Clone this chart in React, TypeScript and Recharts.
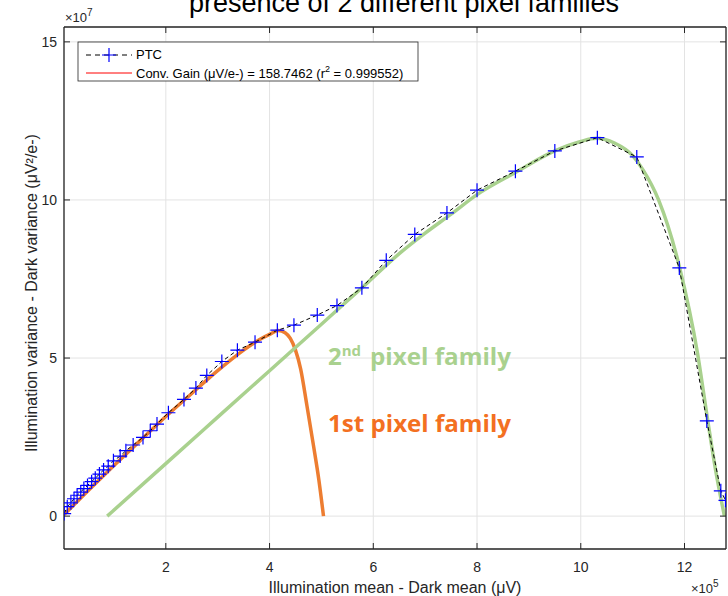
import React from 'react';
import { ComposedChart, Line, XAxis, YAxis, CartesianGrid } from 'recharts';

// x in units of 1e5 µV, y in units of 1e7 µV²/e- (the axes show the multipliers)
const ptcX = [0.04, 0.1, 0.17, 0.23, 0.29, 0.36, 0.42, 0.49, 0.57, 0.64, 0.72, 0.8, 0.89, 0.99, 1.12, 1.23, 1.37, 1.56, 1.7, 1.83, 2.05, 2.35, 2.58, 2.79, 3.08, 3.38, 3.72, 4.15, 4.47, 4.92, 5.3, 5.78, 6.25, 6.8, 7.42, 8.0, 8.74, 9.5, 10.32, 11.08, 11.9, 12.43, 12.7, 12.79];
const ptcY = [0.08, 0.3, 0.42, 0.55, 0.66, 0.76, 0.87, 0.97, 1.09, 1.2, 1.33, 1.46, 1.58, 1.75, 1.9, 2.07, 2.25, 2.49, 2.7, 2.91, 3.27, 3.69, 4.05, 4.45, 4.89, 5.25, 5.5, 5.88, 6.04, 6.36, 6.66, 7.22, 8.09, 8.91, 9.59, 10.31, 10.91, 11.55, 11.97, 11.36, 7.85, 3.01, 0.8, 0.5];

// 1st pixel family fit (orange)
const fam1X = [0.04, 0.5, 1.0, 1.5, 2.0, 2.5, 3.0, 3.5, 3.8, 4.0, 4.17, 4.3, 4.4, 4.5, 4.6, 4.72, 4.85, 4.95, 5.04];
const fam1Y = [0.05, 0.8, 1.6, 2.38, 3.15, 3.88, 4.6, 5.25, 5.58, 5.75, 5.87, 5.8, 5.62, 5.25, 4.65, 3.5, 2.2, 1.15, 0.0];

// 2nd pixel family fit (green)
const fam2X = [0.87, 2.0, 3.0, 4.0, 5.0, 5.9, 6.5, 7.0, 7.5, 8.0, 8.75, 9.5, 10.0, 10.3, 10.65, 11.0, 11.2, 11.5, 11.9, 12.25, 12.45, 12.6, 12.77];
const fam2Y = [0.0, 1.66, 3.13, 4.6, 6.07, 7.4, 8.3, 8.95, 9.55, 10.17, 10.88, 11.55, 11.85, 11.95, 11.8, 11.4, 10.95, 10.0, 7.9, 5.16, 3.0, 1.45, 0.0];

const xTicks = [2, 4, 6, 8, 10, 12];
const yTicks = [0, 5, 10, 15];

const ptc = ptcX.map((x, i) => ({ x, y: ptcY[i] }));
const fam1 = fam1X.map((x, i) => ({ x, y: fam1Y[i] }));
const fam2 = fam2X.map((x, i) => ({ x, y: fam2Y[i] }));

const AX = '#262626';
const FONT = '"Liberation Sans", Arial, sans-serif';
const NOTE_FONT = '"Open Sans", sans-serif';

const BottomTick = (props: any) => {
  const { x, y, payload } = props;
  return (
    <g>
      <line x1={x} y1={y} x2={x} y2={y - 6} stroke={AX} />
      <text x={x} y={y + 23} textAnchor="middle" fontSize={14} fill={AX} fontFamily={FONT}>
        {payload.value}
      </text>
    </g>
  );
};

const LeftTick = (props: any) => {
  const { x, y, payload } = props;
  return (
    <g>
      <line x1={x} y1={y} x2={x + 6} y2={y} stroke={AX} />
      <text x={x - 7} y={y + 5} textAnchor="end" fontSize={14} fill={AX} fontFamily={FONT}>
        {payload.value}
      </text>
    </g>
  );
};

const TopTick = (props: any) => {
  const { x, y } = props;
  return <line x1={x} y1={y} x2={x} y2={y + 6} stroke={AX} />;
};

const RightTick = (props: any) => {
  const { x, y } = props;
  return <line x1={x} y1={y} x2={x - 6} y2={y} stroke={AX} />;
};

const PlusDot = (props: any) => {
  const { cx, cy, index } = props;
  if (cx == null || cy == null) return <g key={index} />;
  return (
    <path
      key={index}
      d={`M${cx - 7},${cy}H${cx + 7}M${cx},${cy - 7}V${cy + 7}`}
      stroke="#0000ff"
      strokeWidth={1.2}
      fill="none"
    />
  );
};

export default function App() {
  return (
    <div style={{ position: 'absolute', left: 0, top: 0, width: 728, height: 596, background: '#fff' }}>
      <ComposedChart width={728} height={596} margin={{ top: 26, right: 1, bottom: 0, left: 0 }}>
        <CartesianGrid stroke="#e3e3e3" strokeWidth={1} />
        <XAxis
          type="number"
          dataKey="x"
          domain={[0.037, 12.8]}
          ticks={xTicks}
          allowDataOverflow
          height={47}
          tickSize={0}
          tickMargin={0}
          tick={BottomTick}
          axisLine={{ stroke: AX, strokeWidth: 1.3 }}
          tickLine={false}
        />
        <XAxis
          xAxisId="top"
          orientation="top"
          type="number"
          dataKey="x"
          domain={[0.037, 12.8]}
          ticks={xTicks}
          allowDataOverflow
          height={1}
          tickSize={0}
          tickMargin={0}
          tick={TopTick}
          axisLine={{ stroke: AX, strokeWidth: 1.3 }}
          tickLine={false}
        />
        <YAxis
          type="number"
          domain={[-1.04, 15.47]}
          ticks={yTicks}
          allowDataOverflow
          width={64}
          tickSize={0}
          tickMargin={0}
          tick={LeftTick}
          axisLine={{ stroke: AX, strokeWidth: 1.3 }}
          tickLine={false}
        />
        <YAxis
          yAxisId="right"
          orientation="right"
          type="number"
          domain={[-1.04, 15.47]}
          ticks={yTicks}
          allowDataOverflow
          width={1}
          tickSize={0}
          tickMargin={0}
          tick={RightTick}
          axisLine={{ stroke: AX, strokeWidth: 1.3 }}
          tickLine={false}
        />
        <Line
          data={fam1}
          dataKey="y"
          type="monotone"
          stroke="#ED7D31"
          strokeWidth={3.5}
          dot={false}
          activeDot={false}
          isAnimationActive={false}
        />
        <Line
          data={fam2}
          dataKey="y"
          type="monotone"
          stroke="#A9D18E"
          strokeWidth={3.5}
          dot={false}
          activeDot={false}
          isAnimationActive={false}
        />
        <Line
          data={ptc}
          dataKey="y"
          type="linear"
          stroke="#000"
          strokeWidth={1}
          strokeDasharray="4 3"
          dot={PlusDot}
          activeDot={false}
          isAnimationActive={false}
        />

        {/* title, cut off at the top as in the original figure */}
        <text x={404} y={12} textAnchor="middle" fontSize={27} fontFamily={FONT} fill="#000">
          presence of 2 different pixel families
        </text>

        {/* axis multipliers */}
        <text x={65} y={22} fontSize={13} fontFamily={FONT} fill={AX}>
          ×10<tspan dy={-6} fontSize={10}>7</tspan>
        </text>
        <text x={691} y={593} fontSize={13} fontFamily={FONT} fill={AX}>
          ×10<tspan dy={-6} fontSize={10}>5</tspan>
        </text>

        {/* axis labels */}
        <text x={395} y={593} textAnchor="middle" fontSize={16} fontFamily={FONT} fill={AX}>
          Illumination mean - Dark mean (μV)
        </text>
        <text
          x={32}
          y={293}
          textAnchor="middle"
          fontSize={16}
          fontFamily={FONT}
          fill={AX}
          transform="rotate(-90 32 293)"
          dy={5}
        >
          Illumination variance - Dark variance (μV²/e-)
        </text>

        {/* annotations */}
        <text x={328} y={365} fontSize={24} fontWeight={700} fontFamily={NOTE_FONT} fill="#A9D18E">
          2<tspan dy={-9} fontSize={15}>nd</tspan>
          <tspan x={370} dy={9} textLength={141} lengthAdjust="spacingAndGlyphs">pixel family</tspan>
        </text>
        <text
          x={328}
          y={432}
          fontSize={24}
          fontWeight={700}
          fontFamily={NOTE_FONT}
          fill="#F37021"
          textLength={183}
          lengthAdjust="spacingAndGlyphs"
        >
          1st pixel family
        </text>

        {/* legend */}
        <g>
          <rect x={78} y={42} width={340} height={39} fill="#fff" stroke={AX} strokeWidth={0.8} />
          <line x1={86} y1={55} x2={132} y2={55} stroke="#000" strokeDasharray="5 4" />
          <path d="M102,55H116M109,48V62" stroke="#0000ff" strokeWidth={1.2} />
          <text x={136} y={59} fontSize={13} fontFamily={FONT} fill="#000">PTC</text>
          <line x1={86} y1={73} x2={132} y2={73} stroke="#ff0000" strokeWidth={1} />
          <text x={136} y={77.5} fontSize={13} fontFamily={FONT} fill="#000">
            Conv. Gain (μV/e-) = 158.7462 (r<tspan dy={-6} fontSize={9}>2</tspan>
            <tspan dy={6}> = 0.999552)</tspan>
          </text>
        </g>
      </ComposedChart>
    </div>
  );
}
